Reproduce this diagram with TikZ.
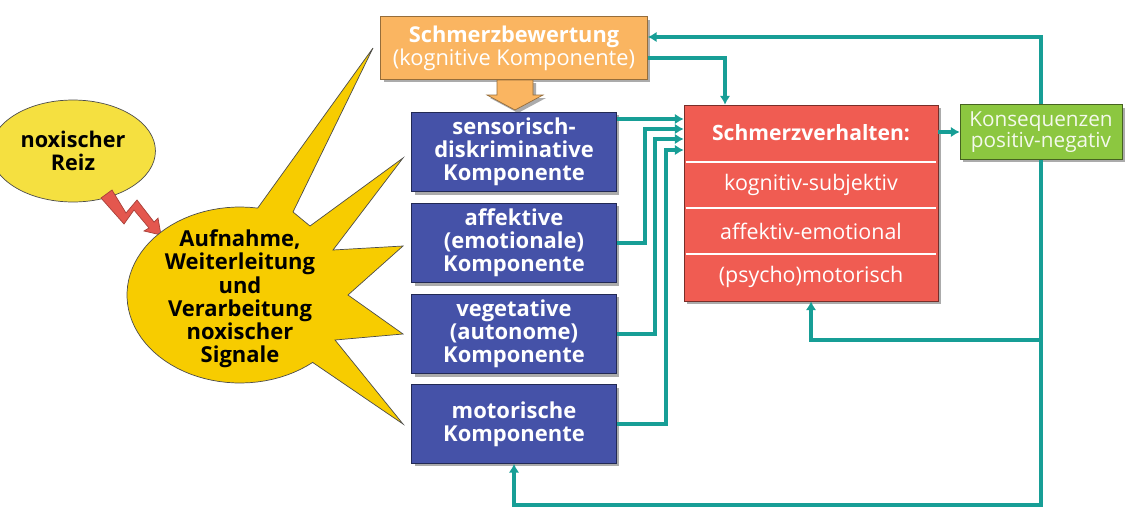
\documentclass[tikz,border=0pt]{standalone}
\usepackage{fontspec}
\setmainfont{Open Sans}
\usetikzlibrary{shapes.geometric, arrows.meta, positioning, shadows}
\newlength{\w}
\setlength{\w}{4.1cm}
\newlength{\h}
\setlength{\h}{1.58cm}
\definecolor{bluecolor}{rgb}{0.27, 0.32, 0.66}
\definecolor{redcolor}{rgb}{0.94, 0.36, 0.32}
\definecolor{orangecolor}{rgb}{0.98, 0.71, 0.38}
\definecolor{greencolor}{rgb}{0.55, 0.78, 0.25}
\definecolor{tealcolor}{rgb}{0.09, 0.62, 0.59}
\definecolor{starcolor}{rgb}{0.97, 0.80, 0.0}
\definecolor{reizcolor}{rgb}{0.96, 0.88, 0.25}
\tikzset{myshadow/.style={drop shadow={shadow xshift=0.06cm, shadow yshift=-0.06cm, fill=black!60, opacity=0.55}}}
\tikzset{komponente/.style={draw=bluecolor!50!black, fill=bluecolor, text=white, font=\bfseries\fontsize{12.5}{13}\selectfont, align=center, minimum width=\w, minimum height=\h, myshadow}}
\tikzset{bewertung/.style={draw=orangecolor!60!black, fill=orangecolor, text=white, font=\fontsize{12.4}{13.2}\selectfont, align=center, minimum width=5.34cm, minimum height=1.26cm, myshadow}}
\tikzset{verhalten/.style={draw=redcolor!50!black, fill=redcolor, minimum width=5.08cm, minimum height=3.92cm, myshadow}}
\tikzset{zeile/.style={text=white, font=\fontsize{12.2}{13}\selectfont, minimum width=5.08cm, minimum height=0.92cm}}
\tikzset{konseq/.style={draw=greencolor!50!black, fill=greencolor, text=white!90!greencolor, font=\fontsize{11.8}{12}\selectfont, align=center, minimum width=3.24cm, minimum height=1.1cm, myshadow}}
\tikzset{conn/.style={draw=tealcolor, line width=2pt}}
\tikzset{>={Latex[length=5pt, width=6pt]}}

\begin{document}
\begin{tikzpicture}[x=0.02cm, y=-0.02cm]

	\useasboundingbox (0,0) rectangle (1145,507);

	%%% NODES %%%

	% REIZ
	\node[draw=black!70, fill=reizcolor, ellipse, minimum width=2.52cm, minimum height=2.04cm, align=center, font=\bfseries\fontsize{12.3}{13}\selectfont] at (73,151) (reiz) {noxischer\\Reiz};
	\fill[draw=redcolor!70!black, fill=redcolor!95!black] (101,198) -- (124,224) -- (134,210) -- (149,228) -- (144,231) -- (161,235) -- (158,218) -- (154,222) -- (137,200) -- (126,213) -- (112,190) -- cycle;

	% STERN
	\draw[draw=black!70, fill=starcolor] plot[domain=50:279, samples=60] ({240+113*cos(\x)},{295+88*sin(\x)}) -- (373,48) -- (293,212) -- (310,226) -- (403,158) -- (333,250) -- (403,246) -- (348,295) -- (403,334) -- (335,340) -- (403,424) -- cycle;
	\node[align=center, font=\bfseries\fontsize{12.5}{13.2}\selectfont] at (240,299) (signale) {Aufnahme,\\Weiterleitung\\und\\Verarbeitung\\noxischer\\Signale};

	% BEWERTUNG
	\node[bewertung] at (514,48) (schmerzbew) {\textbf{Schmerzbewertung}\\(kognitive Komponente)};
	\path[draw=orangecolor!60!black, fill=orangecolor, myshadow] (497,80) -- (497,95) -- (487,95) -- (515,110) -- (543,95) -- (533,95) -- (533,80) -- cycle;

	% KOMPONENTEN
	\node[komponente] at (514,152) (sensor) {sensorisch-\\diskriminative\\Komponente};
	\node[komponente] at (514,243) (affektiv) {affektive\\(emotionale)\\Komponente};
	\node[komponente] at (514,334) (vegetativ) {vegetative\\(autonome)\\Komponente};
	\node[komponente] at (514,424) (motor) {motorische\\Komponente};

	% VERHALTEN
	\node[verhalten] at (811,203) (verhalten) {};
	\node[zeile, font=\bfseries\fontsize{12}{13}\selectfont] at (811,133) (kopf) {Schmerzverhalten:};
	\node[zeile] at (811,185) (kognitiv) {kognitiv-subjektiv};
	\node[zeile] at (811,231) (emotional) {affektiv-emotional};
	\node[zeile] at (811,277) (psycho) {(psycho)motorisch};
	\foreach \z in {kognitiv, emotional, psycho}
		\draw[white, line width=1.2pt] ([xshift=0.04cm]verhalten.west |- \z.north) -- ([xshift=-0.04cm]verhalten.east |- \z.north);

	% KONSEQUENZEN
	\node[konseq] at (1041,132) (konseq) {Konsequenzen\\positiv-negativ};

	%%% EXTRA ARROW NODES %%%
	\coordinate (e0) at (660,119);
	\coordinate (e1) at (645,129);
	\coordinate (e2) at (655,139);
	\coordinate (e3) at (666,150);
	\coordinate (e4) at (725,58);
	\coordinate (f1) at (1041,37);
	\coordinate (f2) at (1041,505);
	\coordinate (f3) at (1041,340);

	%%% ARROWS %%%

	% KOMPONENTEN -> VERHALTEN
	\draw[conn, ->] (sensor.east |- e0) -- (verhalten.west |- e0);
	\draw[conn, ->] (affektiv.east) -| (e1) -- (verhalten.west |- e1);
	\draw[conn, ->] (vegetativ.east) -| (e2) -- (verhalten.west |- e2);
	\draw[conn, ->] (motor.east) -| (e3) -- (verhalten.west |- e3);

	% BEWERTUNG -> VERHALTEN
	\draw[conn, ->] (schmerzbew.east |- e4) -| (verhalten.north -| e4);

	% VERHALTEN -> KONSEQUENZEN
	\draw[conn, ->] (verhalten.east |- konseq) -- (konseq.west);

	% RUECKKOPPLUNG
	\draw[conn, ->] (konseq.north) -- (f1) -- (schmerzbew.east |- f1);
	\draw[conn, ->] (konseq.south) -- (f2) -| (motor.south);
	\draw[conn, ->] (f3) -| (verhalten.south);

\end{tikzpicture}
\end{document}
